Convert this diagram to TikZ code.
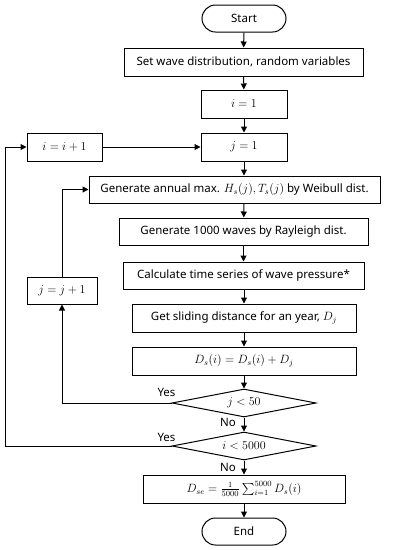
\documentclass[tikz,border=0pt]{standalone}
\usepackage{amsmath}
\usepackage{fontspec}
\setmainfont{Noto Sans}
\usetikzlibrary{arrows.meta,positioning,shapes.geometric,calc}
\tikzset{
  procbox/.style={draw,rectangle,minimum height=28pt,inner sep=2pt},
  termbox/.style={draw,rectangle,rounded corners=13.5pt,minimum width=84pt,minimum height=27pt},
  testbox/.style={draw,diamond,aspect=5.1,minimum width=144pt,minimum height=28pt,inner sep=0pt},
  lbl/.style={inner sep=1pt}
}

\begin{document}
\begin{tikzpicture}[x=1pt,y=-1pt,>={Triangle[length=6pt,width=6pt]},line width=1pt,
  font=\fontsize{11.5}{13}\selectfont]
  \useasboundingbox (0,0) rectangle (403,550);
  \node[termbox] (start) at (244,18.5) {Start};
  \node[procbox,minimum width=239pt] (setvar) at (243.5,62) {Set wave distribution, random variables};
  \node[procbox,minimum width=86pt] (ione) at (244,104) {$i=1$};
  \node[procbox,minimum width=86pt] (jone) at (244,147) {$j=1$};
  \node[procbox,minimum width=75pt] (iinc) at (64.5,147) {$i=i+1$};
  \node[procbox,minimum width=291pt,minimum height=27pt] (annual) at (234.5,189.5) {Generate annual max. $H_s(j),T_s(j)$ by Weibull dist.};
  \node[procbox,minimum width=249pt,minimum height=27pt] (rayl) at (243.5,231.5) {Generate 1000 waves by Rayleigh dist.};
  \node[procbox,minimum width=241pt,minimum height=27pt] (press) at (243.5,275.5) {Calculate time series of wave pressure*};
  \node[procbox,minimum width=70pt,minimum height=27pt] (jinc) at (62,290.5) {$j=j+1$};
  \node[procbox,minimum width=224pt] (slide) at (244,318) {Get sliding distance for an year, $D_j$};
  \node[procbox,minimum width=224pt] (dsum) at (244,361) {$D_s(i)=D_s(i)+D_j$};
  \node[testbox] (jtest) at (244,403) {$j<50$};
  \node[testbox] (itest) at (244,446) {$i<5000$};
  \node[procbox,minimum width=202pt] (dse) at (244,489) {$D_{se}=\frac{1}{5000}\sum_{i=1}^{5000}D_s(i)$};
  \node[termbox] (stop) at (244,531.5) {End};
  \coordinate (outer) at (5,446);

  % main line
  \draw[->] (start) -- (setvar);
  \draw[->] (setvar) -- (ione);
  \draw[->] (ione) -- (jone);
  \draw[->] (jone) -- (jone|-annual.north);
  \draw[->] (jone|-annual.south) -- (rayl);
  \draw[->] (rayl) -- (press);
  \draw[->] (press.south-|slide) -- (slide);
  \draw[->] (slide) -- (dsum);
  \draw[->] (dsum) -- (jtest);
  \draw[->] (jtest) -- (itest);
  \draw[->] (itest) -- (dse);
  \draw[->] (dse) -- (stop);

  % loops
  \draw[->] (jtest.west) -| (jinc.south);
  \draw[->] (jinc.north) |- (annual.west);
  \draw[->] (itest.west) -- (outer) |- (iinc.west);
  \draw[->] (iinc) -- (jone);

  \node[lbl] (yesj) at ($(jtest.west)+(-5,-11)$) {Yes};
  \node[lbl] (noj) at ($(jtest.south)+(-16,5)$) {No};
  \node[lbl] (yesi) at ($(itest.west)+(-5,-9)$) {Yes};
  \node[lbl] (noi) at ($(itest.south)+(-16,7)$) {No};
\end{tikzpicture}
\end{document}
